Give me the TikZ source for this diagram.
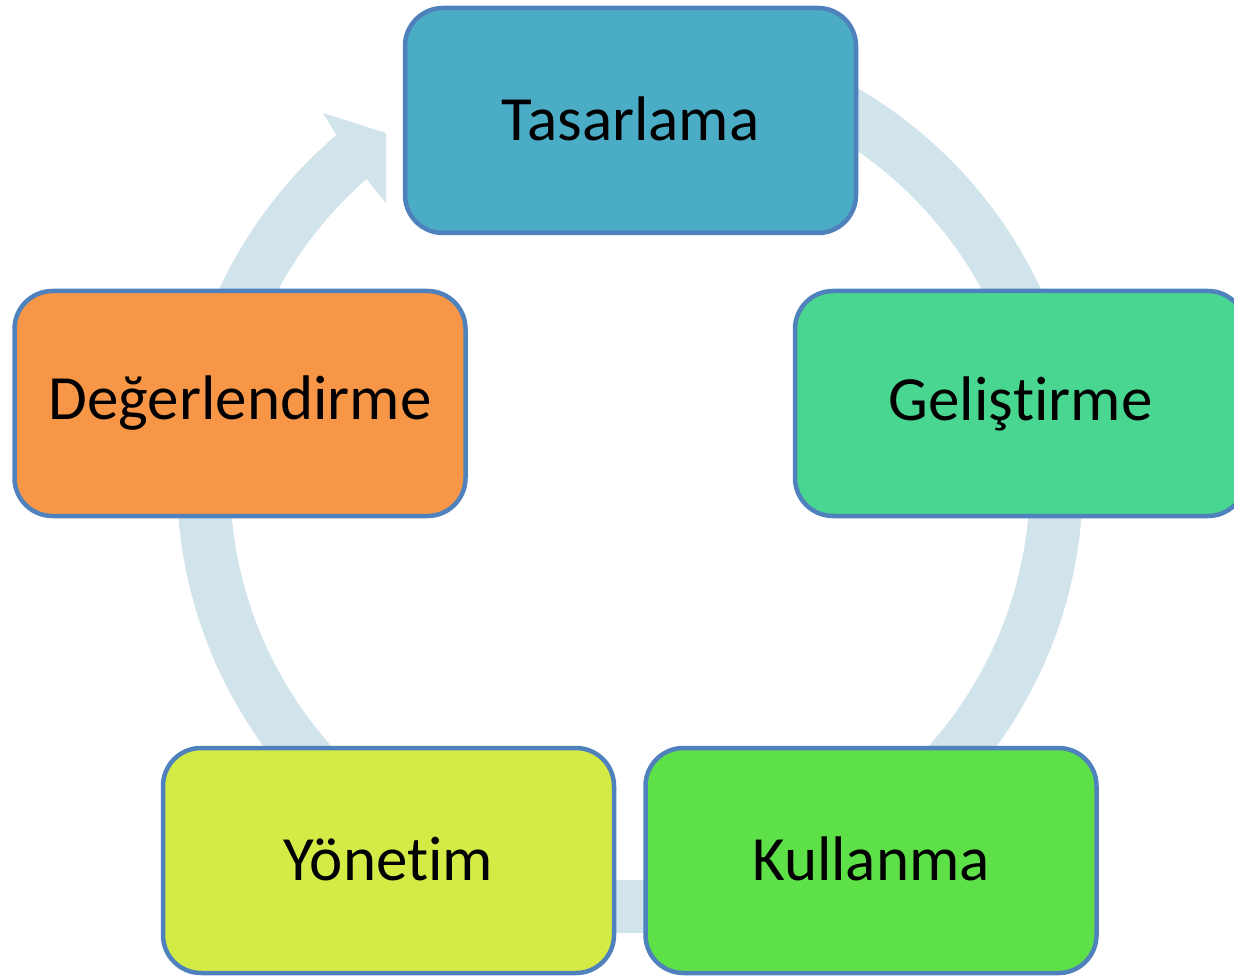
\documentclass[tikz,border=0pt]{standalone}
\usetikzlibrary{calc}
\usepackage{fontspec}
\setmainfont{Carlito}[RawFeature={-liga;-clig;-calt;-dlig}]
\definecolor{band}{HTML}{D1E3EB}
\definecolor{edge}{HTML}{4F81BD}
\definecolor{cTas}{HTML}{4BACC6}
\definecolor{cGel}{HTML}{48D690}
\definecolor{cKul}{HTML}{5EE048}
\definecolor{cYon}{HTML}{D4EB46}
\definecolor{cDeg}{HTML}{F79646}
\begin{document}
\begin{tikzpicture}[x=1pt,y=1pt,
  stage/.style={draw=edge, line width=4.5pt, rounded corners=38pt,
    minimum width=451pt, minimum height=225pt, inner sep=0pt,
    font=\fontsize{63}{70}\selectfont, text=black}]
\useasboundingbox (0,0) rectangle (1234,-976);
\clip (0,0) rectangle (1234,-976);
\coordinate (c) at (630,-480);
% circular arrow band
\fill[band] ($(c)+(85:453)$) arc[start angle=85, end angle=-229.6, radius=453]
  -- (323,-113) -- (386,-133) -- (386,-203)
  -- ($(c)+(-228.8:400)$) arc[start angle=-228.8, end angle=85, radius=400] -- cycle;
% boxes
\node[stage, fill=cTas] (tas) at (630.5,-120.5) {\raisebox{3pt}{Tasarlama}};
\node[stage, fill=cGel] (gel) at (1020.5,-403.5) {\raisebox{3pt}{Geliş\kern0pt t\kern0pt irme}};
\node[stage, fill=cKul] (kul) at (871,-860.5) {\raisebox{3pt}{Kullanma}};
\node[stage, fill=cYon] (yon) at (388.5,-860.5) {\raisebox{3pt}{Yönet\kern0pt im}};
\node[stage, fill=cDeg] (deg) at (240,-403.5) {\raisebox{3pt}{Değerlendirme}};
\end{tikzpicture}
\end{document}
